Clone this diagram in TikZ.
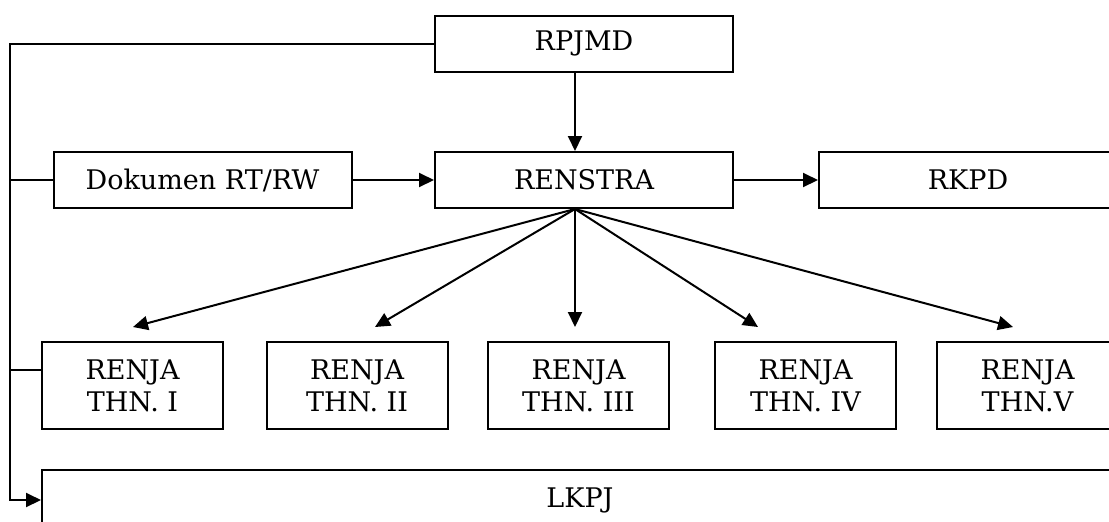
\documentclass[tikz,border=0pt]{standalone}
\usepackage{fontspec}
\setmainfont{DejaVu Serif}
\usetikzlibrary{arrows.meta}
\tikzset{
  box/.style={draw, line width=1pt, minimum width=149pt, minimum height=28pt, inner sep=0pt, font=\fontsize{13.5}{16}\selectfont},
  renjabox/.style={box, minimum width=90.5pt, minimum height=43.5pt, align=center},
  arr/.style={-{Triangle[length=7.5pt,width=7pt]}, line width=1pt},
  link/.style={line width=1pt}
}
\begin{document}
\begin{tikzpicture}[x=0.5pt,y=-0.5pt]
  \useasboundingbox (0,0) rectangle (1109,521);
  \clip (0,0) rectangle (1109,521);

  % Draw the boxes
  \node[box] (rpjmd) at (584,43.5) {RPJMD};
  \node[box] (dokumen) at (202.5,180) {Dokumen RT/RW};
  \node[box] (renstra) at (584,180) {RENSTRA};
  \node[box] (rkpd) at (968,180) {RKPD};
  \foreach \name/\x/\txt in {r1/132.5/THN. I, r2/357/THN. II, r3/578.5/THN. III, r4/805.5/THN. IV, r5/1027.5/THN.V}{
    \node[renjabox] (\name) at (\x,385.5) {RENJA\\\txt};
  }
  \node[box, minimum width=538pt, minimum height=30pt] (lkpj) at (580,500) {LKPJ};

  % Draw the main arrows
  \coordinate (hub) at ([xshift=-4.5pt]renstra.south);
  \draw[arr] ([xshift=-4.5pt]rpjmd.south) -- ([xshift=-4.5pt]renstra.north);
  \draw[arr] (dokumen) -- (renstra);
  \draw[arr] (renstra) -- (rkpd);

  % Fan out to the RENJA boxes
  \foreach \name/\x in {r1/133, r2/375, r3/575, r4/758, r5/1013}{
    \coordinate (tip-\name) at (\x,327);
    \draw[arr] (hub) -- (tip-\name);
  }

  % Left feedback line
  \coordinate (corner) at (10,0);
  \draw[arr] (rpjmd.west) -- (rpjmd.west -| corner) |- (lkpj.west);
  \draw[link] (dokumen.west) -- (dokumen.west -| corner);
  \draw[link] ([yshift=7.75pt]r1.west) -- ([yshift=7.75pt]r1.west -| corner);
\end{tikzpicture}
\end{document}
